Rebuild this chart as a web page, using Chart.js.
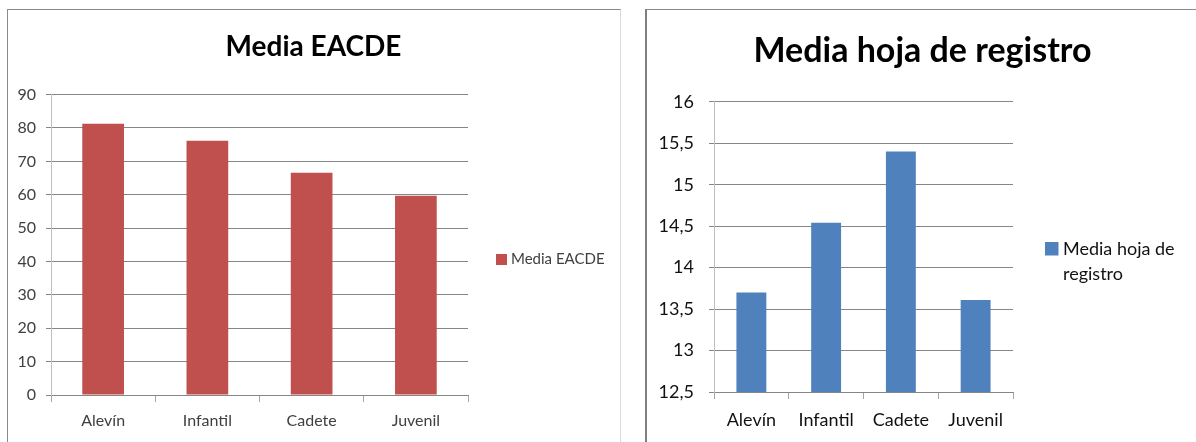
<!DOCTYPE html>
<html>
<head>
<meta charset="utf-8">
<script src="https://cdn.jsdelivr.net/npm/chart.js@4.4.1/dist/chart.umd.min.js"></script>
<style>
  html, body { margin: 0; padding: 0; background: #fff; }
  body { position: relative; width: 1196px; height: 442px; overflow: hidden; }
  .frame { position: absolute; box-sizing: border-box; }
  #frameA { left: 7px; top: 9px; width: 614px; height: 440px;
            border-left: 1px solid #8a8a8a; border-top: 1px solid #8a8a8a; border-right: 1px solid #d9d9d9; }
  #frameB { left: 645px; top: 9px; width: 560px; height: 440px;
            border-left: 2px solid #7f7f7f; border-top: 1px solid #8a8a8a; }
  canvas { position: absolute; top: 10px; }
  #chartA { left: 8px; }
  #chartB { left: 647px; }
</style>
</head>
<body>
<div class="frame" id="frameA"></div>
<div class="frame" id="frameB"></div>
<canvas id="chartA" width="611" height="432"></canvas>
<canvas id="chartB" width="551" height="432"></canvas>
<script>
// Age groups and the two averages per group
const categories = ['Alevín', 'Infantil', 'Cadete', 'Juvenil'];
const eacdeValues = [81.3, 76.2, 66.6, 59.7];
const registroValues = [13.70, 14.54, 15.40, 13.61];
const eacdeTicks = ['0', '10', '20', '30', '40', '50', '60', '70', '80', '90'];
const registroTicks = ['12,5', '13', '13,5', '14', '14,5', '15', '15,5', '16'];

const FONT = 'Lato, "Open Sans", sans-serif';

// Legend drawn in its own layout box on the right of the plot,
// wrapping the series name onto several lines when it is long.
function sideLegend(cfg) {
  return {
    id: 'sideLegend',
    beforeInit(chart) {
      const box = {
        position: 'right', weight: 0, fullSize: false, options: {},
        left: 0, top: 0, right: 0, bottom: 0, width: 0, height: 0,
        isHorizontal() { return false; },
        update(maxWidth, maxHeight) { this.width = cfg.width; this.height = maxHeight; },
        draw() {
          const ctx = chart.ctx;
          const ds = chart.data.datasets[0];
          ctx.save();
          ctx.font = cfg.fontSize + 'px ' + FONT;
          const words = ds.label.split(' ');
          const lines = [];
          let cur = '';
          words.forEach(w => {
            const t = cur ? cur + ' ' + w : w;
            if (cur && ctx.measureText(t).width > cfg.wrap) { lines.push(cur); cur = w; }
            else cur = t;
          });
          lines.push(cur);
          ctx.fillStyle = ds.backgroundColor;
          ctx.fillRect(this.left + cfg.boxX, cfg.boxY, cfg.boxSize, cfg.boxSize);
          ctx.fillStyle = cfg.color;
          ctx.textBaseline = 'middle';
          ctx.textAlign = 'left';
          lines.forEach((t, i) => ctx.fillText(t, this.left + cfg.textX, cfg.textY + i * cfg.lineGap));
          ctx.restore();
        }
      };
      Chart.layouts.addBox(chart, box);
    }
  };
}

function barChart(el, o) {
  return new Chart(el, {
    type: 'bar',
    data: {
      labels: categories,
      datasets: [{
        label: o.label,
        data: o.values,
        backgroundColor: o.color,
        borderWidth: 0,
        categoryPercentage: 1,
        barPercentage: 0.4
      }]
    },
    options: {
      responsive: false,
      animation: false,
      devicePixelRatio: 1,
      layout: { padding: 0 },
      plugins: {
        legend: { display: false },
        tooltip: { enabled: false },
        title: {
          display: true,
          text: o.label,
          color: '#000',
          font: { family: FONT, size: o.titleSize, weight: 'bold', lineHeight: 1.2 },
          padding: { top: o.titleTop, bottom: o.titleBottom }
        }
      },
      scales: {
        x: {
          afterFit: s => { s.height = o.xHeight; },
          grid: { offset: true, drawOnChartArea: false, drawTicks: true, tickLength: 7, color: '#a6a6a6' },
          border: { display: true, color: '#868686' },
          ticks: { color: o.textColor, padding: o.xPad, font: { family: FONT, size: o.tickSize } }
        },
        y: {
          min: o.min, max: o.max,
          afterFit: s => { s.width = o.yWidth; },
          grid: { color: '#868686', drawTicks: true, tickLength: 5 },
          border: { display: true, color: '#bfbfbf' },
          ticks: {
            stepSize: o.step,
            color: o.textColor,
            padding: o.yPad,
            font: { family: FONT, size: o.tickSize },
            callback: (v, i) => o.ticks[i]
          }
        }
      }
    },
    plugins: [sideLegend(o.legend)]
  });
}

barChart(document.getElementById('chartA'), {
  label: 'Media EACDE', values: eacdeValues, color: '#C0504D', ticks: eacdeTicks,
  min: 0, max: 90, step: 10,
  titleSize: 28, titleTop: 20, titleBottom: 31,
  xHeight: 47, yWidth: 43, xPad: 9, yPad: 10, tickSize: 16, textColor: '#404040',
  legend: { width: 151, boxX: 28, boxY: 244, boxSize: 11, textX: 43, textY: 249.5,
            fontSize: 15, color: '#404040', wrap: 160, lineGap: 25 }
});

barChart(document.getElementById('chartB'), {
  label: 'Media hoja de registro', values: registroValues, color: '#4F81BD', ticks: registroTicks,
  min: 12.5, max: 16, step: 0.5,
  titleSize: 34, titleTop: 21, titleBottom: 30,
  xHeight: 50, yWidth: 67, xPad: 10, yPad: 15, tickSize: 18, textColor: '#111',
  legend: { width: 185, boxX: 32, boxY: 232, boxSize: 13.5, textX: 50, textY: 239.5,
            fontSize: 18, color: '#111', wrap: 125, lineGap: 25 }
});
</script>
</body>
</html>
